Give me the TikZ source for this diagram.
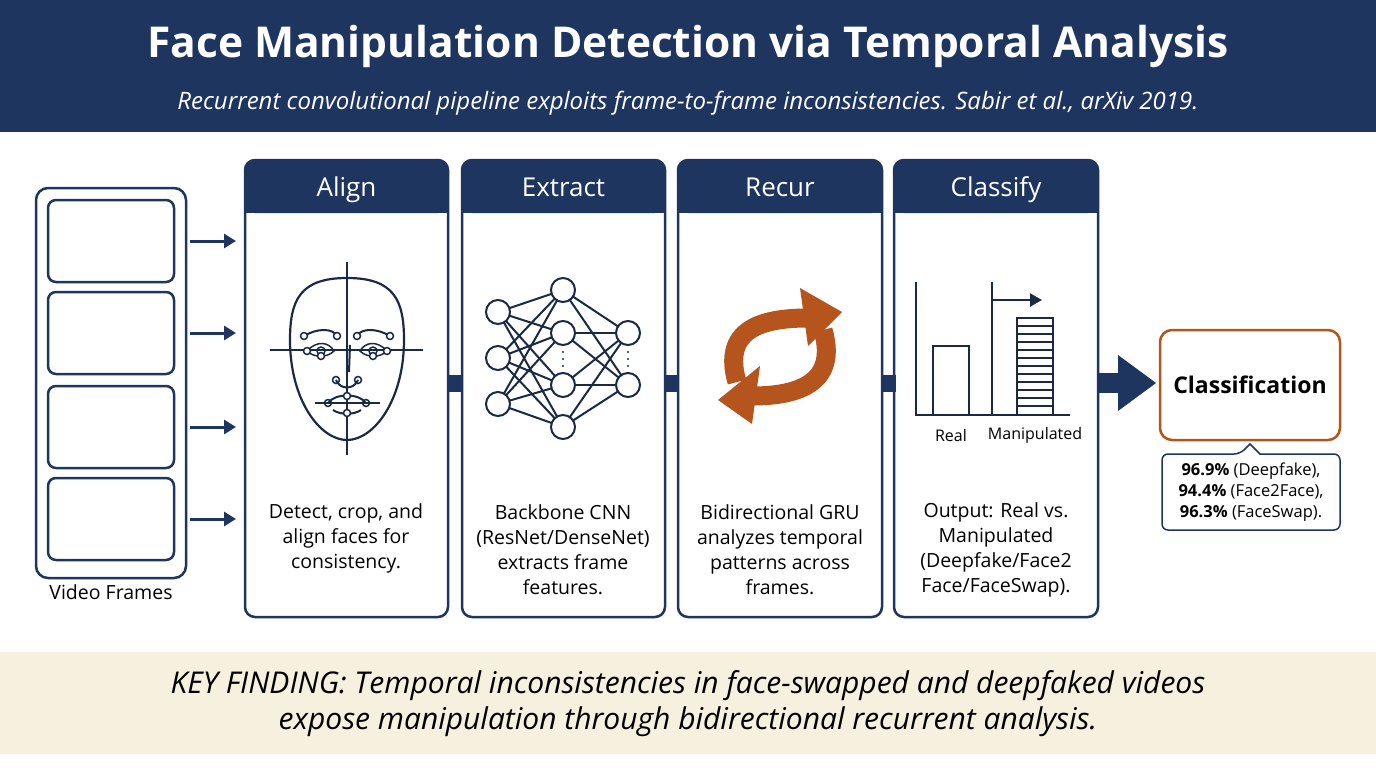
\documentclass[tikz,border=0pt]{standalone}
\usepackage{fontspec}
\setmainfont{Open Sans}
\usetikzlibrary{arrows.meta,calc}
\definecolor{navy}{HTML}{1E3560}
\definecolor{orng}{HTML}{B5541C}
\definecolor{beige}{HTML}{F6F0DF}
\definecolor{ink}{HTML}{1B2A44}
\begin{document}
\begin{tikzpicture}[x=1pt,y=-1pt,
  panel/.style={draw=navy,line width=2.5pt,rounded corners=10pt},
  ptxt/.style={font=\fontsize{19.5}{25}\selectfont,align=center,text=black},
  hd/.style={font=\fontsize{26}{28}\selectfont,text=white},
  ic/.style={draw=ink,line width=2pt},
  dotc/.style={draw=ink,line width=1.5pt,fill=white},
  nn/.style={circle,draw=ink,line width=2pt,fill=white,minimum size=24pt,inner sep=0pt},
  farr/.style={-{Triangle[length=12pt,width=14pt]},draw=navy,line width=3pt}]
\useasboundingbox (0,0) rectangle (1376,768);
\fill[white] (0,0) rectangle (1376,768);
% header
\fill[navy] (0,0) rectangle (1376,132);
\node[text=white,font=\bfseries\fontsize{42.5}{44}\selectfont] (title) at (688,46) {Face Manipulation Detection via Temporal Analysis};
\node[text=white,font=\itshape\fontsize{24}{26}\selectfont] (sub) at (688,103) {Recurrent convolutional pipeline exploits frame-to-frame inconsistencies. Sabir et al., arXiv 2019.};
% footer
\fill[beige] (0,652) rectangle (1376,754);
\node[font=\itshape\fontsize{30}{36}\selectfont,align=center] (key) at (688,704) {KEY FINDING: Temporal inconsistencies in face-swapped and deepfaked videos\\expose manipulation through bidirectional recurrent analysis.};
% video frames
\draw[panel,rounded corners=12pt] (36,188) rectangle (186,578);
\foreach \a/\b/\n in {200/282/1,292/374/2,386/468/3,478/560/4}{
  \draw[panel,rounded corners=8pt] (48,\a) rectangle (174,\b);
  \coordinate (fa\n) at (190,{(\a+\b)/2});
  \coordinate (fb\n) at (236,{(\a+\b)/2});
  \draw[farr] (fa\n) -- (fb\n);}
\node[font=\fontsize{19.5}{24}\selectfont] (vf) at (111,592) {Video Frames};
% connectors between panels
\foreach \x in {448,665,882}{\fill[navy] (\x,375) rectangle (\x+14,392);}
% panels
\foreach \x/\w/\t/\n in {245/203/Align/p1,462/203/Extract/p2,678/204/Recur/p3,894/204/Classify/p4}{
  \fill[navy,rounded corners=10pt] (\x,160) rectangle (\x+\w,213);
  \fill[navy] (\x,195) rectangle (\x+\w,213);
  \draw[panel] (\x,160) rectangle (\x+\w,617);
  \node[hd,anchor=base] (\n) at (\x+\w/2,196) {\t};}
\node[ptxt] (t1) at (346,538) {Detect, crop, and\\align faces for\\consistency.};
\node[ptxt] (t2) at (563,550) {Backbone CNN\\(ResNet/DenseNet)\\extracts frame\\features.};
\node[ptxt] (t3) at (780,550) {Bidirectional GRU\\analyzes temporal\\patterns across\\frames.};
\node[ptxt] (t4) at (996,550) {Output: Real vs.\\Manipulated\\(Deepfake/Face2\\Face/FaceSwap).};
% face icon
\draw[ic,line width=2.2pt] (347,278) .. controls (300,278) and (290,300) .. (290,340)
  .. controls (290,400) and (320,440) .. (347,440)
  .. controls (374,440) and (404,400) .. (404,340)
  .. controls (404,300) and (394,278) .. (347,278) -- cycle;
\draw[ic] (347,262) -- (347,455);
\draw[ic] (270,350) -- (423,350);
\foreach \s in {-1,1}{
\begin{scope}[shift={(347,0)},xscale=\s]
  \draw[ic] (43,336) .. controls (30,328) and (14,328) .. (10,336);
  \draw[ic,line width=1.5pt] (40,351) .. controls (30,340) and (18,342) .. (13,351) .. controls (20,358) and (33,358) .. (40,351);
  \draw[ic,line width=1.5pt] (26,351) circle (4);
  \draw[dotc] (43,336) circle (3.5);
  \draw[dotc] (10,336) circle (3.5);
  \draw[dotc] (40,351) circle (3.5);
  \draw[dotc] (26,356) circle (3.5);
  \draw[dotc] (11,380) circle (3.5);
  \draw[dotc] (19,403) circle (3.5);
\end{scope}}
\draw[ic] (350,345) -- (349,372);
\draw[ic] (336,380) .. controls (340,390) and (354,390) .. (358,380);
\draw[ic] (315,403) -- (380,403);
\draw[ic] (328,403) .. controls (335,393) and (359,393) .. (366,403);
\draw[ic] (333,410) .. controls (340,415) and (354,415) .. (361,410);
\draw[dotc] (347,396) circle (3.5);
\draw[dotc] (347,413) circle (3.5);
% neural net
\foreach \y/\n in {312/a1,358/a2,404/a3}{\coordinate (\n) at (498,\y);}
\foreach \y/\n in {290/b1,333/b2,385/b3,427/b4}{\coordinate (\n) at (563,\y);}
\foreach \y/\n in {333/c1,385/c2}{\coordinate (\n) at (628,\y);}
\foreach \i in {a1,a2,a3}{\foreach \j in {b1,b2,b3,b4}{\draw[ic] (\i) -- (\j);}}
\foreach \i in {b1,b2,b3,b4}{\foreach \j in {c1,c2}{\draw[ic] (\i) -- (\j);}}
\foreach \n in {a1,a2,a3,b1,b2,b3,b4,c1,c2}{\node[nn] (n\n) at (\n) {};}
\foreach \x in {563,628}{\foreach \y in {352,359,366}{\fill[ink] (\x,\y) circle (1.2);}}
% recur icon
\draw[orng,line width=19pt] (737,382) .. controls (722,330) and (760,318) .. (808,318);
\fill[orng] (800,288) -- (842,312) -- (808,346) -- cycle;
\draw[orng,line width=19pt] (823,330) .. controls (838,382) and (800,396) .. (752,396);
\fill[orng] (760,366) -- (718,400) -- (752,424) -- cycle;
% chart
\draw[ic] (916,282) -- (916,415) -- (1070,415);
\draw[ic] (992,282) -- (992,415);
\draw[ic,-{Triangle[length=12pt,width=13pt]}] (992,300) -- (1042,300);
\draw[ic,line width=2.2pt] (933,415) -- (933,346) -- (969,346) -- (969,415);
\draw[ic,line width=2.2pt] (1017,415) -- (1017,318) -- (1053,318) -- (1053,415);
\foreach \y in {326,334,...,410}{\draw[ic,line width=2pt] (1017,\y) -- (1053,\y);}
\node[font=\fontsize{16}{20}\selectfont] (lr) at (951,435) {Real};
\node[font=\fontsize{16}{20}\selectfont] (lm) at (1035,435) {Manipulated};
% big arrow
\fill[navy] (1098,373) rectangle (1125,393);
\fill[navy] (1118,355) -- (1156,383) -- (1118,411) -- cycle;
% classification
\node[draw=orng,line width=2.5pt,rounded corners=12pt,minimum width=180pt,minimum height=110pt,font=\bfseries\fontsize{23}{26}\selectfont] (cls) at (1250,385) {Classification};
\draw[draw=navy,line width=1.5pt,fill=white,rounded corners=6pt] (1162,454) -- (1240,454) [sharp corners]-- (1250,444) -- (1260,454) [rounded corners=6pt]-- (1340,454) -- (1340,530) -- (1162,530) -- cycle;
\node[font=\fontsize{16.5}{21}\selectfont,align=center] (stats) at (1251,492) {\textbf{96.9\%} (Deepfake),\\\textbf{94.4\%} (Face2Face),\\\textbf{96.3\%} (FaceSwap).};
\end{tikzpicture}
\end{document}
